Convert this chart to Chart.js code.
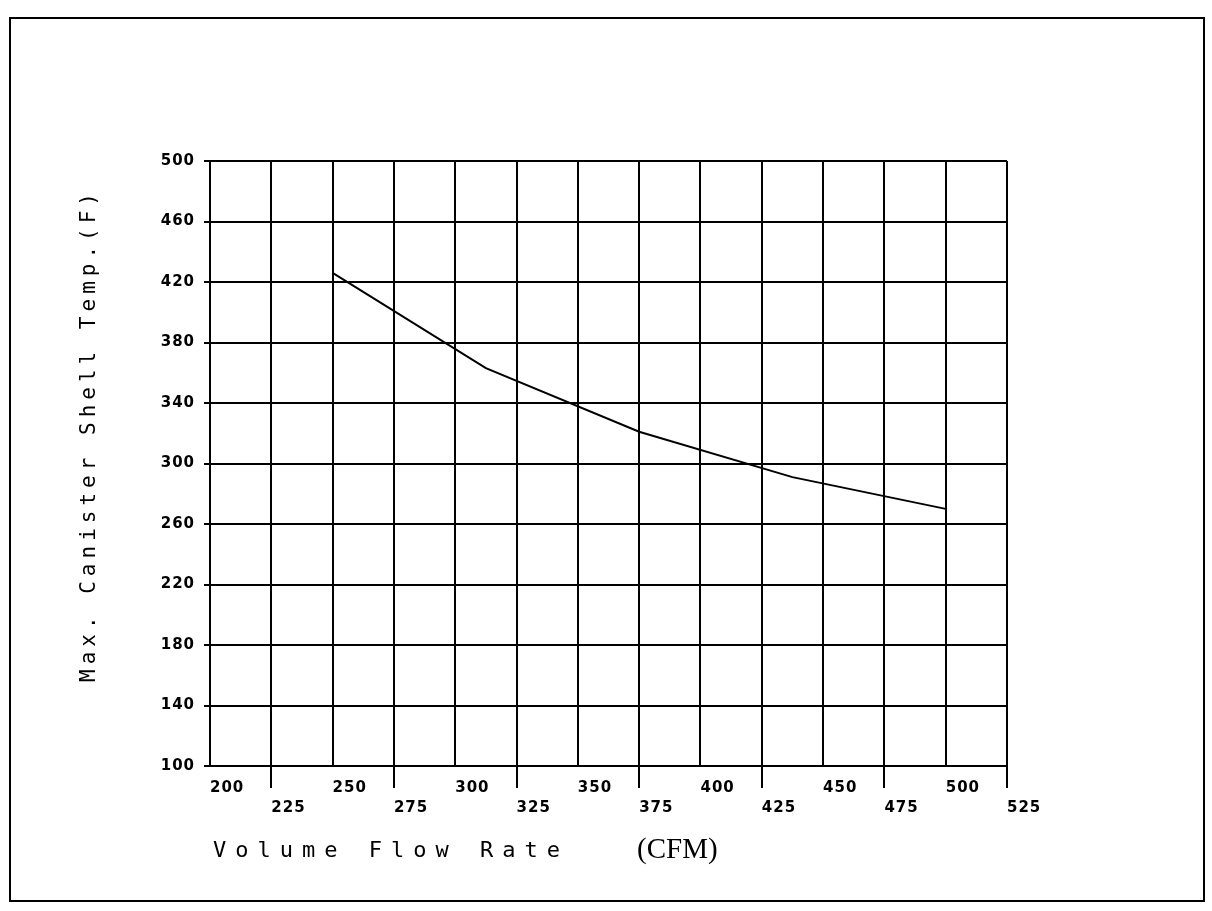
<!DOCTYPE html>
<html>
<head>
<meta charset="utf-8">
<script src="https://cdn.jsdelivr.net/npm/chart.js@4"></script>
<style>
  html, body { margin: 0; padding: 0; background: #fff; }
</style>
</head>
<body>
<canvas id="chart" width="1212" height="911"></canvas>
<script>
// values
const flowRate = [250, 312.5, 375, 437.5, 500];
const shellTemp = [426, 363, 321, 291, 270];

const xTickValues = [200, 225, 250, 275, 300, 325, 350, 375, 400, 425, 450, 475, 500, 525];
const yTickValues = [100, 140, 180, 220, 260, 300, 340, 380, 420, 460, 500];

const xTitle = 'Volume Flow Rate';
const xUnit = '(CFM)';
const yTitle = 'Max. Canister Shell Temp.(F)';

// page frame + plotter style axis titles
const paperFrame = {
    id: 'paperFrame',
    beforeDraw(chart) {
        const ctx = chart.ctx;
        ctx.save();
        ctx.fillStyle = '#fff';
        ctx.fillRect(0, 0, chart.width, chart.height);
        ctx.strokeStyle = '#000';
        ctx.lineWidth = 2;
        ctx.strokeRect(10, 18, 1194, 883);
        ctx.restore();
        ctx.letterSpacing = '1px';
    },
    afterDraw(chart) {
        const ctx = chart.ctx;
        ctx.save();
        ctx.fillStyle = '#000';
        ctx.textBaseline = 'alphabetic';

        ctx.font = '22px "DejaVu Sans Mono"';
        ctx.letterSpacing = '9px';
        ctx.textAlign = 'left';
        ctx.fillText(xTitle, 213, 857);

        ctx.font = '29px "Liberation Serif"';
        ctx.letterSpacing = '0px';
        ctx.fillText(xUnit, 637, 858);

        ctx.translate(95, 435);
        ctx.rotate(-Math.PI / 2);
        ctx.font = '21px "DejaVu Sans Mono"';
        ctx.letterSpacing = '5px';
        ctx.textAlign = 'center';
        ctx.fillText(yTitle, 0, 0);
        ctx.restore();
        ctx.letterSpacing = '0px';
    }
};

new Chart(document.getElementById('chart'), {
    type: 'line',
    data: {
        datasets: [
            {
                data: flowRate.map((x, i) => ({ x: x, y: shellTemp[i] })),
                borderColor: '#000',
                borderWidth: 2,
                pointRadius: 0,
                tension: 0,
                fill: false,
            },
        ],
    },
    options: {
        responsive: false,
        animation: false,
        layout: {
            padding: { left: 0, top: 161, right: 205, bottom: 85 },
        },
        plugins: {
            legend: { display: false },
            tooltip: { enabled: false },
        },
        scales: {
            x: {
                type: 'linear',
                min: 200,
                max: 525,
                afterBuildTicks: (scale) => {
                    scale.ticks = xTickValues.map((v) => ({ value: v }));
                },
                afterFit: (scale) => {
                    scale.height = 60;
                },
                grid: {
                    color: '#000',
                    lineWidth: 2,
                    tickLength: 22,
                    tickColor: (c) => (c.index % 2 === 1 ? '#000' : 'rgba(0,0,0,0)'),
                    tickWidth: 2,
                },
                border: { color: '#000', width: 2 },
                ticks: {
                    autoSkip: false,
                    maxRotation: 0,
                    align: 'start',
                    padding: -10,
                    color: '#000',
                    font: { family: 'DejaVu Sans', weight: 'bold', size: 15, lineHeight: 20 / 15 },
                    callback: (value, index) => (index % 2 === 0 ? String(value) : ['', String(value)]),
                },
            },
            y: {
                min: 100,
                max: 500,
                afterBuildTicks: (scale) => {
                    scale.ticks = yTickValues.map((v) => ({ value: v }));
                },
                afterFit: (scale) => {
                    scale.width = 210;
                },
                grid: {
                    color: '#000',
                    lineWidth: 2,
                    tickLength: 6,
                },
                border: { color: '#000', width: 2 },
                ticks: {
                    padding: 9,
                    color: '#000',
                    font: { family: 'DejaVu Sans', weight: 'bold', size: 15 },
                },
            },
        },
    },
    plugins: [paperFrame],
});
</script>
</body>
</html>
